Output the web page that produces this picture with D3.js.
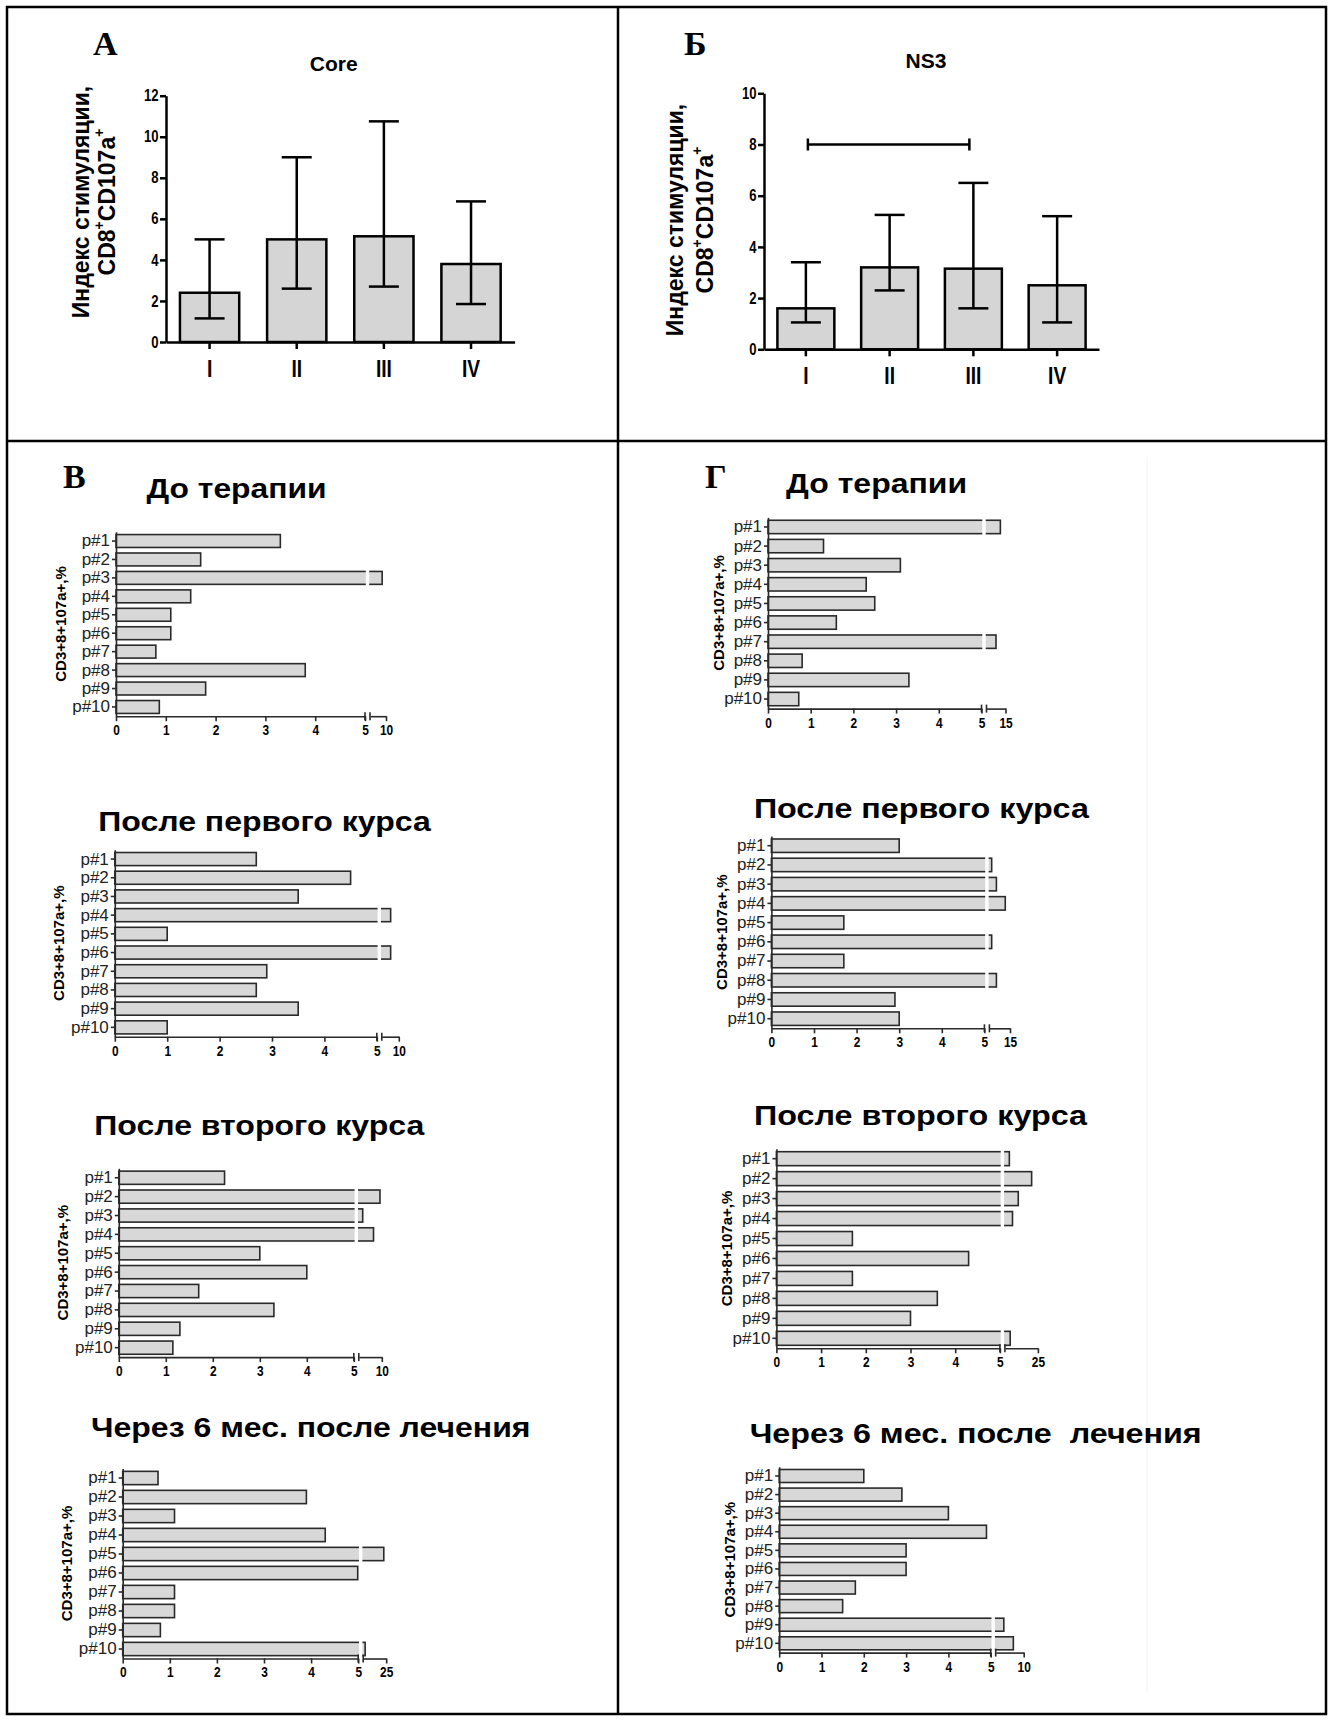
<!DOCTYPE html>
<html>
<head>
<meta charset="utf-8">
<script src="https://cdn.jsdelivr.net/npm/d3@7"></script>
<style>
  body { margin: 0; background: #fff; }
  svg { display: block; }
</style>
</head>
<body>
<svg id="fig" width="1334" height="1720"></svg>
<script>
// ---- values ----
const groups = ['I', 'II', 'III', 'IV'];
const coreTicks = [0, 2, 4, 6, 8, 10, 12];
const coreMedian = [2.4, 5.0, 5.15, 3.8];
const coreLow = [1.15, 2.6, 2.7, 1.85];
const coreHigh = [5.0, 9.0, 10.75, 6.85];

const ns3Ticks = [0, 2, 4, 6, 8, 10];
const ns3Median = [1.6, 3.2, 3.15, 2.5];
const ns3Low = [1.05, 2.3, 1.6, 1.05];
const ns3High = [3.4, 5.25, 6.5, 5.2];
const ns3Bracket = ['I', 'III', 8];

const patients = ['p#1', 'p#2', 'p#3', 'p#4', 'p#5', 'p#6', 'p#7', 'p#8', 'p#9', 'p#10'];
const lowTicks = [0, 1, 2, 3, 4, 5];
const stageTitles = ['До терапии', 'После первого курса', 'После второго курса', 'Через 6 мес. после лечения'];
const stageTitlesNs3 = ['До терапии', 'После первого курса', 'После второго курса', 'Через 6 мес. после  лечения'];

// core antigen, per patient, at each stage
const coreBefore = [3.3, 1.7, 8.8, 1.5, 1.1, 1.1, 0.8, 3.8, 1.8, 0.87];
const coreCourse1 = [2.7, 4.5, 3.5, 7.6, 1.0, 7.6, 2.9, 2.7, 3.5, 1.0];
const coreCourse2 = [2.25, 9.6, 5.85, 8.2, 3.0, 4.0, 1.7, 3.3, 1.3, 1.15];
const core6m = [0.75, 3.9, 1.1, 4.3, 22.9, 4.99, 1.1, 1.1, 0.8, 6.7];
const coreMax = [10, 10, 10, 25];

// NS3 antigen
const ns3Before = [12.3, 1.3, 3.1, 2.3, 2.5, 1.6, 10.0, 0.8, 3.3, 0.72];
const ns3Course1 = [3.0, 6.1, 8.4, 12.7, 1.7, 6.1, 1.7, 8.4, 2.9, 3.0];
const ns3Course2 = [7.7, 21.2, 13.1, 9.6, 1.7, 4.3, 1.7, 3.6, 3.0, 8.2];
const ns36m = [2.0, 2.9, 4.0, 4.9, 3.0, 3.0, 1.8, 1.5, 6.45, 8.15];
const ns3Max = [15, 15, 25, 10];

// ---- drawing ----
const svg = d3.select('#fig');
const SANS = '"Liberation Sans",Arial,sans-serif';
const SERIF = '"Liberation Serif","Times New Roman",serif';

// frame of the figure
svg.append('rect').attr('x', 7).attr('y', 7).attr('width', 1319).attr('height', 1707)
    .attr('fill', 'none').attr('stroke', '#000').attr('stroke-width', 2.5);
svg.append('line').attr('x1', 618).attr('x2', 618).attr('y1', 7).attr('y2', 1714)
    .attr('stroke', '#000').attr('stroke-width', 2.5);
svg.append('line').attr('x1', 7).attr('x2', 1326).attr('y1', 441).attr('y2', 441)
    .attr('stroke', '#000').attr('stroke-width', 2.5);
svg.append('line').attr('x1', 1147).attr('x2', 1147).attr('y1', 457).attr('y2', 1693)
    .attr('stroke', '#f2f2f2').attr('stroke-width', 1);

function letter(txt, x, y) {
    svg.append('text').attr('x', x).attr('y', y).text(txt)
        .attr('font-family', SERIF).attr('font-weight', 'bold').attr('font-size', 34);
}
letter('А', 93, 55);
letter('Б', 684, 55);
letter('В', 63, 488);
letter('Г', 705, 488);

// no narrow face is installed, so squeeze the bold sans a bit
function narrow(sel, size, k) {
    sel.attr('font-family', SANS).attr('font-weight', 'bold').attr('font-size', size);
    sel.selectAll('text').attr('fill', '#000').attr('transform', `scale(${k},1)`);
}

function drawSummary(cfg, median, low, high, ticks) {
    let g = svg.append('g'),
        x = d3.scaleBand().domain(groups).range([cfg.x0, cfg.x1])
            .paddingInner(0.32).paddingOuter(0.16),
        y = d3.scaleLinear().domain([0, ticks[ticks.length - 1]]).range([cfg.y0, cfg.y1]),
        cx = d => x(d) + x.bandwidth() / 2;

    g.selectAll('rect.bar').data(groups).join('rect')
        .attr('class', 'bar')
        .attr('x', d => x(d))
        .attr('y', (d, i) => y(median[i]))
        .attr('width', x.bandwidth())
        .attr('height', (d, i) => y(0) - y(median[i]))
        .attr('fill', '#d5d5d5').attr('stroke', '#000').attr('stroke-width', 2.5);

    let err = g.selectAll('g.err').data(groups).join('g').attr('class', 'err')
        .attr('stroke', '#000').attr('stroke-width', 2.5);
    err.append('line').attr('x1', cx).attr('x2', cx)
        .attr('y1', (d, i) => y(low[i])).attr('y2', (d, i) => y(high[i]));
    err.append('line').attr('x1', d => cx(d) - 15).attr('x2', d => cx(d) + 15)
        .attr('y1', (d, i) => y(high[i])).attr('y2', (d, i) => y(high[i]));
    err.append('line').attr('x1', d => cx(d) - 15).attr('x2', d => cx(d) + 15)
        .attr('y1', (d, i) => y(low[i])).attr('y2', (d, i) => y(low[i]));

    let ya = g.append('g').attr('transform', `translate(${cfg.x0},0)`)
        .call(d3.axisLeft(y).tickValues(ticks).tickSize(6).tickSizeOuter(0).tickPadding(3));
    let xa = g.append('g').attr('transform', `translate(0,${cfg.y0})`)
        .call(d3.axisBottom(x).tickSize(7).tickSizeOuter(0).tickPadding(11));
    [ya, xa].forEach(a => a.selectAll('path, line').attr('stroke', '#000').attr('stroke-width', 2.5));
    narrow(ya, 16, 0.82);
    narrow(xa, 24, 0.8);

    g.append('text').attr('x', cfg.titleX).attr('y', cfg.titleY).attr('text-anchor', 'middle')
        .attr('font-family', SANS).attr('font-weight', 'bold').attr('font-size', 21)
        .text(cfg.title);

    g.append('text').attr('transform', `translate(${cfg.lab1X},${cfg.labY}) rotate(-90)`)
        .attr('text-anchor', 'middle').attr('dominant-baseline', 'central')
        .attr('font-family', SANS).attr('font-weight', 'bold').attr('font-size', 23)
        .text('Индекс стимуляции,');
    let l2 = g.append('text').attr('transform', `translate(${cfg.lab2X},${cfg.labY}) rotate(-90)`)
        .attr('text-anchor', 'middle').attr('dominant-baseline', 'central')
        .attr('font-family', SANS).attr('font-weight', 'bold').attr('font-size', 23);
    l2.append('tspan').text('CD8');
    l2.append('tspan').text('+').attr('font-size', 14).attr('dy', -8);
    l2.append('tspan').text('CD107a').attr('dy', 8);
    l2.append('tspan').text('+').attr('font-size', 14).attr('dy', -8);

    return {x, y, g, cx};
}

drawSummary({x0: 166, x1: 514.6, y0: 342, y1: 95.7, title: 'Core', titleX: 333.7, titleY: 71,
    lab1X: 81, lab2X: 107, labY: 202}, coreMedian, coreLow, coreHigh, coreTicks);

let ns3 = drawSummary({x0: 764, x1: 1099, y0: 349.3, y1: 93.3, title: 'NS3', titleX: 926, titleY: 68.3,
    lab1X: 675, lab2X: 705, labY: 220}, ns3Median, ns3Low, ns3High, ns3Ticks);

// significance bracket between groups I and III
let by = ns3.y(ns3Bracket[2]),
    bx1 = ns3.cx(ns3Bracket[0]) + 2,
    bx2 = ns3.cx(ns3Bracket[1]) - 4;
let br = ns3.g.append('g').attr('stroke', '#000').attr('stroke-width', 2.5);
br.append('line').attr('x1', bx1).attr('x2', bx2).attr('y1', by).attr('y2', by);
br.append('line').attr('x1', bx1).attr('x2', bx1).attr('y1', by - 6).attr('y2', by + 6);
br.append('line').attr('x1', bx2).attr('x2', bx2).attr('y1', by - 6).attr('y2', by + 6);

function drawPatients(cfg, values, max, title) {
    let g = svg.append('g'),
        y = d3.scaleBand().domain(patients).range([cfg.top, cfg.bottom])
            .paddingInner(0.3).paddingOuter(0.15),
        x5 = cfg.x0 + 5 * cfg.unit,
        s2 = x5 + 5,
        x1 = d3.scaleLinear().domain([0, 5]).range([cfg.x0, x5]),
        x2 = d3.scaleLinear().domain([5, max]).range([s2, s2 + cfg.seg2]),
        xv = v => v <= 5 ? x1(v) : x2(v);

    g.selectAll('rect.bar').data(patients).join('rect')
        .attr('class', 'bar')
        .attr('x', cfg.x0)
        .attr('y', d => y(d))
        .attr('width', (d, i) => xv(values[i]) - cfg.x0)
        .attr('height', y.bandwidth())
        .attr('fill', '#d8d8d8').attr('stroke', '#2a2a2a').attr('stroke-width', 1.6);
    // white cut where a bar crosses the axis break
    g.selectAll('rect.cut').data(patients.filter((d, i) => values[i] > 5)).join('rect')
        .attr('class', 'cut')
        .attr('x', x5 + 0.8).attr('width', 3.4)
        .attr('y', d => y(d) - 2).attr('height', y.bandwidth() + 4)
        .attr('fill', '#fff');

    let ya = g.append('g').attr('transform', `translate(${cfg.x0},0)`)
        .call(d3.axisLeft(y).tickSize(4).tickSizeOuter(0).tickPadding(2));
    ya.attr('font-family', SANS).attr('font-size', 17);
    ya.selectAll('text').attr('fill', '#222');

    let xa1 = g.append('g').attr('transform', `translate(0,${cfg.bottom})`)
        .call(d3.axisBottom(x1).tickValues(lowTicks).tickFormat(d3.format('d')).tickSize(5).tickSizeOuter(0).tickPadding(4));
    let xa2 = g.append('g').attr('transform', `translate(0,${cfg.bottom})`)
        .call(d3.axisBottom(x2).tickValues([max]).tickFormat(d3.format('d')).tickSize(5).tickSizeOuter(0).tickPadding(4));
    narrow(xa1, 14, 0.85);
    narrow(xa2, 14, 0.85);
    [ya, xa1, xa2].forEach(a => a.selectAll('path, line').attr('stroke', '#2a2a2a').attr('stroke-width', 1.6));

    // break marks
    [x5, s2].forEach(bx => g.append('line')
        .attr('x1', bx).attr('x2', bx).attr('y1', cfg.bottom - 4).attr('y2', cfg.bottom + 4)
        .attr('stroke', '#2a2a2a').attr('stroke-width', 1.6));

    g.append('text')
        .attr('transform', `translate(${cfg.x0 - cfg.labOff},${(cfg.top + cfg.bottom) / 2}) rotate(-90)`)
        .attr('text-anchor', 'middle').attr('dominant-baseline', 'central')
        .attr('font-family', SANS).attr('font-weight', 'bold').attr('font-size', 15)
        .text('CD3+8+107a+,%');

    g.append('text').attr('x', cfg.tx - cfg.tw / 2).attr('y', cfg.ty)
        .attr('textLength', cfg.tw).attr('lengthAdjust', 'spacingAndGlyphs')
        .style('white-space', 'pre')
        .attr('font-family', SANS).attr('font-weight', 'bold').attr('font-size', 28)
        .text(title);
}

const leftPanels = [
    {x0: 116, unit: 49.8, seg2: 16, top: 531.8, bottom: 716.2, tx: 236.5, ty: 498, tw: 180},
    {x0: 114.8, unit: 52.4, seg2: 17, top: 849.7, bottom: 1036.7, tx: 264.5, ty: 830.7, tw: 332.5},
    {x0: 118.8, unit: 47.0, seg2: 23, top: 1168.3, bottom: 1357.1, tx: 259.3, ty: 1135, tw: 330},
    {x0: 122.7, unit: 47.1, seg2: 23, top: 1468.5, bottom: 1658.5, tx: 310.8, ty: 1436.7, tw: 439.5}
];
const rightPanels = [
    {x0: 768, unit: 42.7, seg2: 19, top: 517.4, bottom: 708.6, tx: 876.6, ty: 493, tw: 181},
    {x0: 771.4, unit: 42.6, seg2: 20.6, top: 836.1, bottom: 1028.3, tx: 921.4, ty: 818, tw: 335},
    {x0: 776.4, unit: 44.7, seg2: 33, top: 1148.7, bottom: 1348.3, tx: 920.5, ty: 1125, tw: 333},
    {x0: 779.2, unit: 42.3, seg2: 28, top: 1466.7, bottom: 1652.6, tx: 975.7, ty: 1443, tw: 452}
];

[coreBefore, coreCourse1, coreCourse2, core6m].forEach((vals, i) =>
    drawPatients(Object.assign({labOff: 56}, leftPanels[i]), vals, coreMax[i], stageTitles[i]));
[ns3Before, ns3Course1, ns3Course2, ns36m].forEach((vals, i) =>
    drawPatients(Object.assign({labOff: 50}, rightPanels[i]), vals, ns3Max[i], stageTitlesNs3[i]));
</script>
</body>
</html>
